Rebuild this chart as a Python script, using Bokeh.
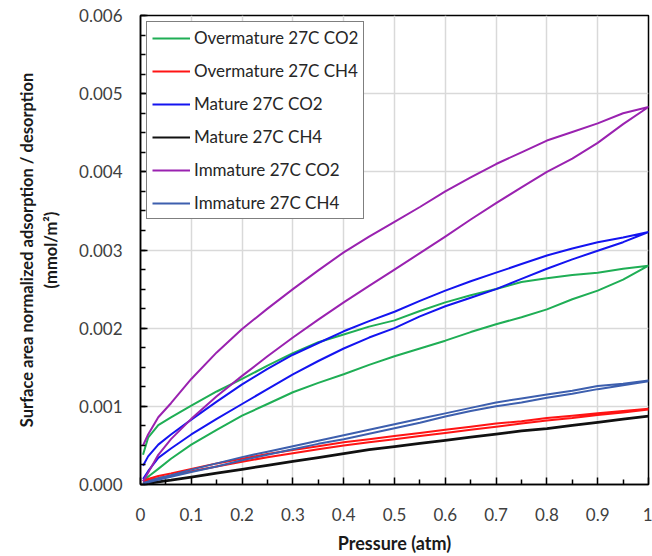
from bokeh.plotting import figure
from bokeh.models import Range1d, FixedTicker, NumeralTickFormatter, CustomJSTickFormatter
from bokeh.embed import file_html
from bokeh.resources import INLINE

# Pressure grid (atm), shared by adsorption and desorption branches
pressure = [0.005, 0.015, 0.035, 0.06, 0.1, 0.15, 0.2, 0.25, 0.3, 0.35, 0.4, 0.45,
            0.5, 0.55, 0.6, 0.65, 0.7, 0.75, 0.8, 0.85, 0.9, 0.95, 1.0]

# Overmature 27C CO2
over_co2_ads = [0.00004, 0.00010, 0.00020, 0.00033, 0.00051, 0.00070, 0.00088, 0.00103, 0.00118, 0.00130, 0.00141, 0.00153,
                0.00164, 0.00174, 0.00184, 0.00195, 0.00205, 0.00214, 0.00224, 0.00237, 0.00248, 0.00262, 0.00280]
over_co2_des = [0.00038, 0.00060, 0.00076, 0.00086, 0.00101, 0.00119, 0.00135, 0.00152, 0.00168, 0.00182, 0.00192, 0.00202,
                0.00210, 0.00222, 0.00233, 0.00242, 0.00250, 0.00259, 0.00264, 0.00268, 0.00271, 0.00276, 0.00280]
# Overmature 27C CH4
over_ch4_ads = [0.00002, 0.00005, 0.00008, 0.00011, 0.00017, 0.00023, 0.00029, 0.00035, 0.00040, 0.00045, 0.00050, 0.00054,
                0.00058, 0.00062, 0.00066, 0.00070, 0.00074, 0.00078, 0.00082, 0.00085, 0.00089, 0.00092, 0.00096]
over_ch4_des = [0.00004, 0.00007, 0.00011, 0.00014, 0.00020, 0.00027, 0.00033, 0.00039, 0.00044, 0.00049, 0.00054, 0.00058,
                0.00062, 0.00066, 0.00070, 0.00074, 0.00078, 0.00081, 0.00085, 0.00088, 0.00091, 0.00094, 0.00097]
# Mature 27C CO2
mat_co2_ads = [0.00007, 0.00017, 0.00034, 0.00046, 0.00064, 0.00084, 0.00103, 0.00122, 0.00141, 0.00158, 0.00174, 0.00188,
               0.00200, 0.00215, 0.00228, 0.00239, 0.00250, 0.00263, 0.00276, 0.00288, 0.00299, 0.00310, 0.00323]
mat_co2_des = [0.00024, 0.00036, 0.00051, 0.00064, 0.00083, 0.00106, 0.00128, 0.00148, 0.00166, 0.00181, 0.00196, 0.00209,
               0.00221, 0.00235, 0.00248, 0.00260, 0.00271, 0.00282, 0.00293, 0.00302, 0.00310, 0.00316, 0.00323]
# Mature 27C CH4
mat_ch4_ads = [0.00000, 0.00001, 0.00003, 0.00005, 0.00009, 0.00014, 0.00019, 0.00024, 0.00029, 0.00034, 0.00039, 0.00044,
               0.00048, 0.00052, 0.00056, 0.00060, 0.00064, 0.00068, 0.00071, 0.00075, 0.00079, 0.00083, 0.00087]
mat_ch4_des = [0.00001, 0.00002, 0.00004, 0.00006, 0.00010, 0.00015, 0.00020, 0.00025, 0.00030, 0.00035, 0.00040, 0.00045,
               0.00049, 0.00053, 0.00057, 0.00061, 0.00065, 0.00069, 0.00072, 0.00076, 0.00080, 0.00084, 0.00088]
# Immature 27C CO2
imm_co2_ads = [0.00004, 0.00015, 0.00038, 0.00058, 0.00084, 0.00113, 0.00139, 0.00164, 0.00188, 0.00211, 0.00233, 0.00254,
               0.00275, 0.00296, 0.00317, 0.00339, 0.00360, 0.00380, 0.00400, 0.00417, 0.00437, 0.00461, 0.00483]
imm_co2_des = [0.00050, 0.00064, 0.00086, 0.00104, 0.00135, 0.00169, 0.00199, 0.00225, 0.00250, 0.00274, 0.00297, 0.00317,
               0.00336, 0.00355, 0.00375, 0.00393, 0.00410, 0.00425, 0.00440, 0.00451, 0.00462, 0.00475, 0.00483]
# Immature 27C CH4
imm_ch4_ads = [0.00001, 0.00003, 0.00006, 0.00010, 0.00016, 0.00023, 0.00031, 0.00038, 0.00045, 0.00052, 0.00058, 0.00065,
               0.00072, 0.00079, 0.00087, 0.00094, 0.00100, 0.00105, 0.00111, 0.00116, 0.00122, 0.00127, 0.00132]
imm_ch4_des = [0.00002, 0.00004, 0.00008, 0.00012, 0.00019, 0.00027, 0.00035, 0.00042, 0.00049, 0.00056, 0.00063, 0.00070,
               0.00077, 0.00084, 0.00091, 0.00098, 0.00105, 0.00110, 0.00115, 0.00120, 0.00126, 0.00129, 0.00133]

labels = ["Overmature 27C CO2", "Overmature 27C CH4", "Mature 27C CO2",
          "Mature 27C CH4", "Immature 27C CO2", "Immature 27C CH4"]
colors = ["#1fae55", "#ff1414", "#1414f0", "#111111", "#9a22b0", "#3d5fae"]
series = [(over_co2_ads, over_co2_des), (over_ch4_ads, over_ch4_des),
          (mat_co2_ads, mat_co2_des), (mat_ch4_ads, mat_ch4_des),
          (imm_co2_ads, imm_co2_des), (imm_ch4_ads, imm_ch4_des)]

x_ticks = [0, 0.1, 0.2, 0.3, 0.4, 0.5, 0.6, 0.7, 0.8, 0.9, 1.0]
x_minor = [0.05, 0.15, 0.25, 0.35, 0.45, 0.55, 0.65, 0.75, 0.85, 0.95]
y_ticks = [0, 0.001, 0.002, 0.003, 0.004, 0.005, 0.006]
y_minor = [i * 0.00025 for i in range(25)]

FONT = "Lato"

p = figure(width=652, height=556, output_backend="svg", toolbar_location=None,
           x_range=Range1d(0, 1), y_range=Range1d(0, 0.006),
           min_border_left=140, min_border_right=4, min_border_top=15, min_border_bottom=72)

for (ads, des), lab, col in zip(series, labels, colors):
    xs = pressure + pressure[::-1]
    ys = ads + des[::-1]
    p.line(xs, ys, line_color=col, line_width=2, line_join="round", legend_label=lab)

p.outline_line_color = "black"
p.outline_line_width = 1.5
p.background_fill_color = "white"
p.border_fill_color = "white"

for g in (p.xgrid, p.ygrid):
    g.grid_line_color = "#d9d9d9"
    g.grid_line_width = 1.5

p.xaxis.ticker = FixedTicker(ticks=x_ticks, minor_ticks=x_minor)
p.yaxis.ticker = FixedTicker(ticks=y_ticks, minor_ticks=y_minor)
p.xaxis.formatter = CustomJSTickFormatter(code="return tick.toFixed(1).replace(/\\.0$/, '');")
p.yaxis.formatter = NumeralTickFormatter(format="0.000")

for ax in (p.xaxis, p.yaxis):
    ax.axis_line_color = "black"
    ax.axis_line_width = 1.5
    ax.major_tick_in = 7
    ax.major_tick_out = 0
    ax.minor_tick_in = 5
    ax.minor_tick_out = 0
    ax.major_tick_line_color = "black"
    ax.major_tick_line_width = 1.5
    ax.minor_tick_line_color = "black"
    ax.minor_tick_line_width = 1.5
    ax.major_label_text_font = FONT
    ax.major_label_text_font_size = "17px"
    ax.major_label_text_color = "#404040"
    ax.axis_label_text_font = FONT
    ax.axis_label_text_font_style = "bold"
    ax.axis_label_text_color = "#1a1a1a"

p.xaxis.axis_label = "Pressure (atm)"
p.xaxis.axis_label_text_font_size = "18px"
p.xaxis.major_label_standoff = 23
p.xaxis.axis_label_standoff = 8
p.yaxis.axis_label = "Surface area normalized adsorption / desorption\n(mmol/m\u00b2)"
p.yaxis.axis_label_text_font_size = "16.5px"
p.yaxis.major_label_standoff = 18
p.yaxis.axis_label_standoff = 15

lg = p.legend[0]
lg.location = "top_left"
lg.margin = 6
lg.padding = 5
lg.spacing = 12
lg.label_height = 20
lg.glyph_height = 20
lg.glyph_width = 38
lg.label_standoff = 4
lg.label_text_font = FONT
lg.label_text_font_size = "17px"
lg.label_text_color = "#262626"
lg.border_line_color = "black"
lg.border_line_width = 1.5
lg.background_fill_alpha = 1.0

open("out.html", "w").write(file_html(p, INLINE))
